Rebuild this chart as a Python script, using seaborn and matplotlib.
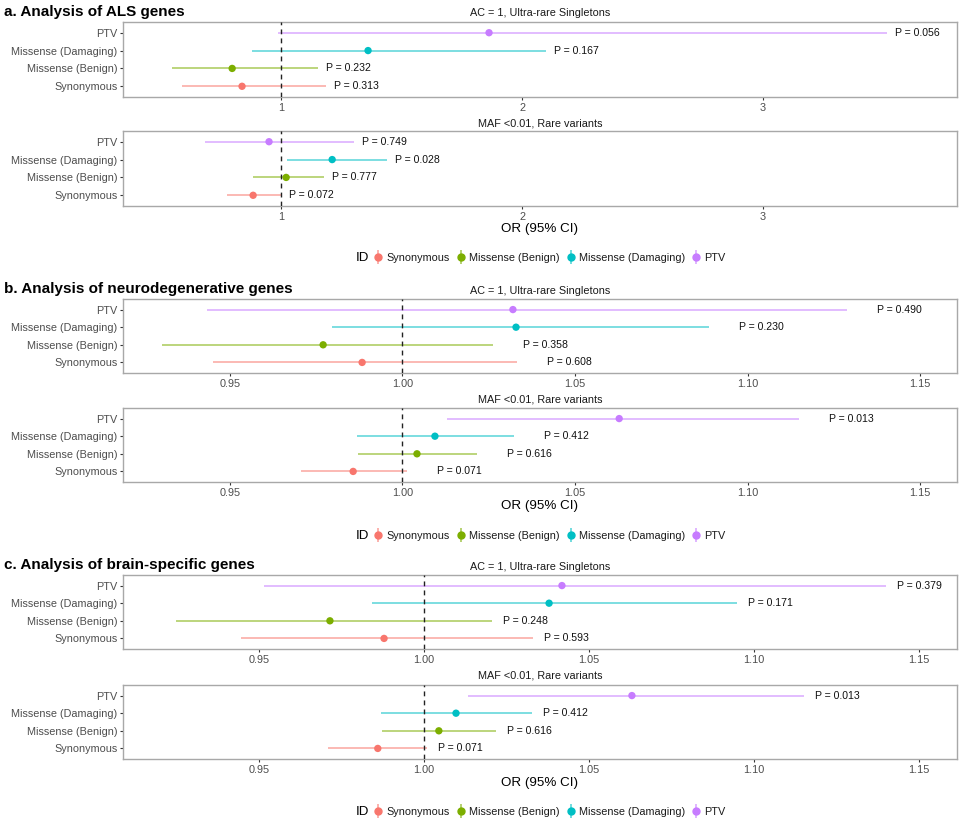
import numpy as np
import pandas as pd
import matplotlib
matplotlib.use("Agg")
import matplotlib.pyplot as plt
import seaborn as sns
from matplotlib.lines import Line2D
from matplotlib.legend_handler import HandlerTuple

# ---------------- data ----------------
categories = ["Synonymous", "Missense (Benign)", "Missense (Damaging)", "PTV"]
colors = ["#F8766D", "#7CAE00", "#00BFC4", "#C77CFF"]

section_titles = ["a. Analysis of ALS genes",
                  "b. Analysis of neurodegenerative genes",
                  "c. Analysis of brain-specific genes"]
facet_titles = ["AC = 1, Ultra-rare Singletons", "MAF <0.01, Rare variants"]

# a. ALS genes
als_ac_or = [0.838, 0.797, 1.361, 1.863]
als_ac_lo = [0.589, 0.548, 0.880, 0.988]
als_ac_hi = [1.185, 1.155, 2.100, 3.515]
als_ac_p = ["0.313", "0.232", "0.167", "0.056"]

als_maf_or = [0.884, 1.021, 1.212, 0.950]
als_maf_lo = [0.776, 0.884, 1.025, 0.685]
als_maf_hi = [1.000, 1.178, 1.440, 1.303]
als_maf_p = ["0.072", "0.777", "0.028", "0.749"]

# b. neurodegenerative genes
neuro_ac_or = [0.9883, 0.9770, 1.0329, 1.0320]
neuro_ac_lo = [0.9450, 0.9303, 0.9796, 0.9433]
neuro_ac_hi = [1.0332, 1.0262, 1.0888, 1.1288]
neuro_ac_p = ["0.608", "0.358", "0.230", "0.490"]

neuro_maf_or = [0.9857, 1.0042, 1.0094, 1.0628]
neuro_maf_lo = [0.9706, 0.9871, 0.9868, 1.0129]
neuro_maf_hi = [1.0012, 1.0216, 1.0323, 1.1150]
neuro_maf_p = ["0.071", "0.616", "0.412", "0.013"]

# c. brain-specific genes
brain_ac_or = [0.9879, 0.9715, 1.0379, 1.0418]
brain_ac_lo = [0.9445, 0.9248, 0.9842, 0.9515]
brain_ac_hi = [1.0330, 1.0206, 1.0948, 1.1400]
brain_ac_p = ["0.593", "0.248", "0.171", "0.379"]

brain_maf_or = [0.9860, 1.0045, 1.0097, 1.0630]
brain_maf_lo = [0.9709, 0.9873, 0.9870, 1.0133]
brain_maf_hi = [1.0009, 1.0218, 1.0327, 1.1152]
brain_maf_p = ["0.071", "0.616", "0.412", "0.013"]

xticks_a = [1, 2, 3]
xticklabels_a = ["1", "2", "3"]
xticks_bc = [0.95, 1.00, 1.05, 1.10, 1.15]
xticklabels_bc = ["0.95", "1.00", "1.05", "1.10", "1.15"]

# ---------------- style ----------------
sns.set_style("white")
plt.rcParams["font.family"] = ["Liberation Sans", "DejaVu Sans"]

W, H = 960, 824
fig = plt.figure(figsize=(W / 100, H / 100), dpi=100)
fig.patch.set_facecolor("white")

palette = dict(zip(categories, colors))
border_col = "#A8A8A8"
tick_col = "#4D4D4D"

def px_axes(top, bottom, left=123, right=957):
    return fig.add_axes([left / W, 1 - bottom / H, (right - left) / W, (bottom - top) / H])

def draw_panel(ax, orv, lo, hi, pv, xlim, ticks, ticklabels, off_px):
    df = pd.DataFrame({"ID": categories, "OR": orv, "lo": lo, "hi": hi, "P": pv})
    sns.scatterplot(data=df, x="OR", y="ID", hue="ID", palette=palette,
                    hue_order=categories, s=28, edgecolor="none", legend=False,
                    ax=ax, zorder=4)
    ax.hlines(df["ID"], df["lo"], df["hi"], colors=[palette[c] for c in df["ID"]],
              linewidth=1.1, alpha=0.65, zorder=2)
    ax.axvline(1.0, color="#222222", linestyle=(0, (3.5, 3)), linewidth=1.0, zorder=3)
    for _, r in df.iterrows():
        ax.annotate(f"P = {r['P']}", xy=(r["hi"], r["ID"]),
                    xytext=(off_px * 0.72, 0), textcoords="offset points",
                    ha="left", va="center", fontsize=7.6, color="#111111")
    ax.set_xlim(*xlim)
    ax.set_ylim(-0.6, 3.6)
    ax.set_xticks(ticks)
    ax.set_xticklabels(ticklabels)
    ax.set_xlabel("")
    ax.set_ylabel("")
    for sp in ax.spines.values():
        sp.set_color(border_col)
        sp.set_linewidth(1.0)
        sp.set_visible(True)
    ax.tick_params(axis="both", which="both", direction="out", length=2.5,
                   width=0.8, color="#333333", labelsize=7.8,
                   labelcolor=tick_col, pad=1.5, left=True, bottom=True)
    ax.grid(False)

sections = [
    dict(title=section_titles[0], ty=12,
         panels=[(22, 97, als_ac_or, als_ac_lo, als_ac_hi, als_ac_p, 13),
                 (131, 206, als_maf_or, als_maf_lo, als_maf_hi, als_maf_p, 123)],
         xlim=(0.344, 3.805), ticks=xticks_a, labels=xticklabels_a, off=8,
         xlab_y=229, leg_y=258),
    dict(title=section_titles[1], ty=289,
         panels=[(299, 373, neuro_ac_or, neuro_ac_lo, neuro_ac_hi, neuro_ac_p, 291),
                 (408, 482, neuro_maf_or, neuro_maf_lo, neuro_maf_hi, neuro_maf_p, 400)],
         xlim=(0.919, 1.1607), ticks=xticks_bc, labels=xticklabels_bc, off=30,
         xlab_y=506, leg_y=536),
    dict(title=section_titles[2], ty=565,
         panels=[(575, 649, brain_ac_or, brain_ac_lo, brain_ac_hi, brain_ac_p, 567),
                 (685, 759, brain_maf_or, brain_maf_lo, brain_maf_hi, brain_maf_p, 676)],
         xlim=(0.9088, 1.1615), ticks=xticks_bc, labels=xticklabels_bc, off=11,
         xlab_y=783, leg_y=812),
]

for sec in sections:
    fig.text(4 / W, 1 - sec["ty"] / H, sec["title"], fontsize=11, fontweight="bold",
             ha="left", va="center", color="black")
    for (top, bot, orv, lo, hi, pv, sy), ftitle in zip(sec["panels"], facet_titles):
        ax = px_axes(top, bot)
        draw_panel(ax, orv, lo, hi, pv, sec["xlim"], sec["ticks"], sec["labels"], sec["off"])
        fig.text(540 / W, 1 - sy / H, ftitle, fontsize=7.8, ha="center", va="center",
                 color="#1A1A1A")
    fig.text(540 / W, 1 - sec["xlab_y"] / H, "OR (95% CI)", fontsize=9.6,
             ha="center", va="center", color="black")
    # legend
    fig.text(356 / W, 1 - sec["leg_y"] / H, "ID", fontsize=9.6, ha="left",
             va="center", color="black")
    handles = []
    for c in colors:
        handles.append((Line2D([], [], color=c, marker="|", markersize=10,
                               markeredgewidth=1.2, linestyle="none", alpha=0.65),
                        Line2D([], [], color=c, marker="o", markersize=5,
                               linestyle="none")))
    fig.legend(handles, categories, handler_map={tuple: HandlerTuple(ndivide=1, pad=0)},
               loc="center left", bbox_to_anchor=(373 / W, 1 - sec["leg_y"] / H),
               ncol=4, frameon=False, fontsize=7.8, handlelength=0.9,
               handletextpad=0.3, columnspacing=0.6, borderpad=0, borderaxespad=0,
               labelcolor="#1A1A1A")

fig.savefig("out.png", dpi=100, facecolor="white")
